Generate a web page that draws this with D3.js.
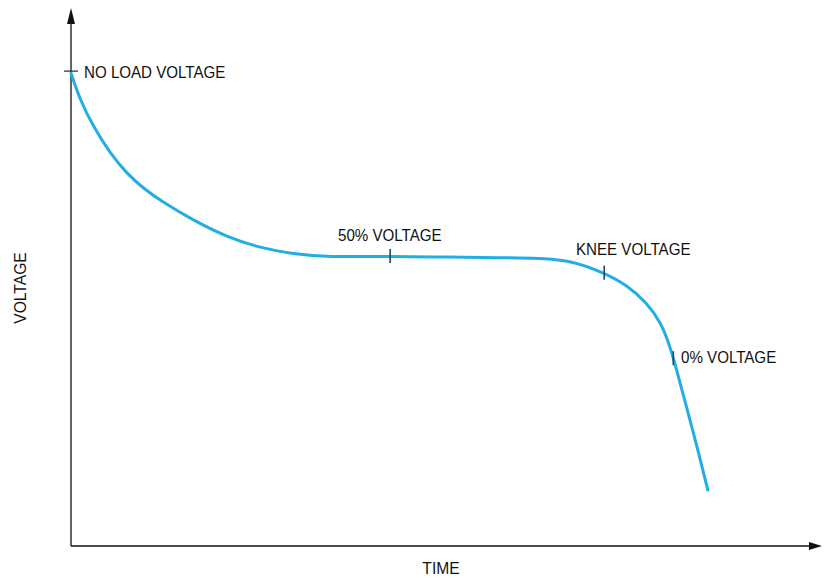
<!DOCTYPE html>
<html><head><meta charset="utf-8">
<script src="https://cdn.jsdelivr.net/npm/d3@7/dist/d3.min.js"></script>
<style>body{margin:0;background:#fff}svg{display:block}text{font-family:"Liberation Sans",Arial,sans-serif;fill:#111}</style>
</head><body><svg id="c" width="825" height="578"></svg>
<script>
// Discharge curve, time (0-100) vs voltage (0-100)
const time    = [0, 1.2, 3.0, 5.2, 7.4, 9.6, 11.9, 16.2, 20.8, 25.2, 29.6, 34.1, 42.5, 50.5, 57.1, 62.5, 66.8, 71.1, 74.0, 76.7, 78.6, 79.6, 80.3, 81.6, 82.9, 84.8];
const voltage = [87.9, 82.9, 77.9, 73.0, 69.3, 66.5, 64.2, 60.6, 57.4, 55.4, 54.3, 53.7, 53.9, 53.7, 53.6, 53.5, 53.0, 50.7, 48.5, 45.2, 41.4, 37.7, 34.6, 27.7, 21.0, 10.4];
const markerNames = ["NO LOAD VOLTAGE", "50% VOLTAGE", "KNEE VOLTAGE", "0% VOLTAGE"];
const markerTime  = [0, 42.5, 71.0, 80.2];
const markerVolt  = [87.9, 53.9, 50.8, 34.9];
const xLabel = "TIME", yLabel = "VOLTAGE";

const svg = d3.select("#c");
const x = d3.scaleLinear().domain([0, 100]).range([71, 822]);
const y = d3.scaleLinear().domain([0, 100]).range([546, 8]);

// axes
svg.append("line").attr("x1", x(0)).attr("y1", y(0)).attr("x2", x(0)).attr("y2", y(97.5)).attr("stroke", "#111").attr("stroke-width", 1.3);
svg.append("line").attr("x1", x(0)).attr("y1", y(0)).attr("x2", x(98.8)).attr("y2", y(0)).attr("stroke", "#111").attr("stroke-width", 1.3);
svg.append("path").attr("d", `M${x(0)},${y(100)} L${x(0)-4},${y(100)+16} L${x(0)+4},${y(100)+16} Z`).attr("fill", "#111");
svg.append("path").attr("d", `M${x(100)},${y(0)} L${x(100)-13},${y(0)-4} L${x(100)-13},${y(0)+4} Z`).attr("fill", "#111");

// curve
const pts = time.map((t, i) => [t, voltage[i]]);
svg.append("path").datum(pts)
  .attr("d", d3.line().x(d => x(d[0])).y(d => y(d[1])).curve(d3.curveBasis))
  .attr("fill", "none").attr("stroke", "#22aee4").attr("stroke-width", 3).attr("stroke-linecap", "round");

// markers
svg.append("line").attr("x1", x(0)-7).attr("x2", x(0)+7).attr("y1", y(markerVolt[0]) - 2).attr("y2", y(markerVolt[0]) - 2).attr("stroke", "#333").attr("stroke-width", 1.3);
[1, 2, 3].forEach(i => {
  svg.append("line").attr("x1", x(markerTime[i])).attr("x2", x(markerTime[i]))
    .attr("y1", y(markerVolt[i]) - 7).attr("y2", y(markerVolt[i]) + 7)
    .attr("stroke", "#1a4a66").attr("stroke-width", 1.6);
});

const lab = [[84, 78], [338, 241], [576, 255], [681, 363]];
markerNames.forEach((n, i) => {
  svg.append("text").attr("transform", `translate(${lab[i][0]},${lab[i][1]}) scale(0.89,1)`)
    .attr("font-size", 17).text(n);
});

svg.append("text").attr("transform", "translate(441,574) scale(0.92,1)").attr("text-anchor", "middle").attr("font-size", 17).text(xLabel);
svg.append("text").attr("transform", "translate(26,288) rotate(-90) scale(0.92,1)").attr("text-anchor", "middle").attr("font-size", 17).text(yLabel);
</script></body></html>
